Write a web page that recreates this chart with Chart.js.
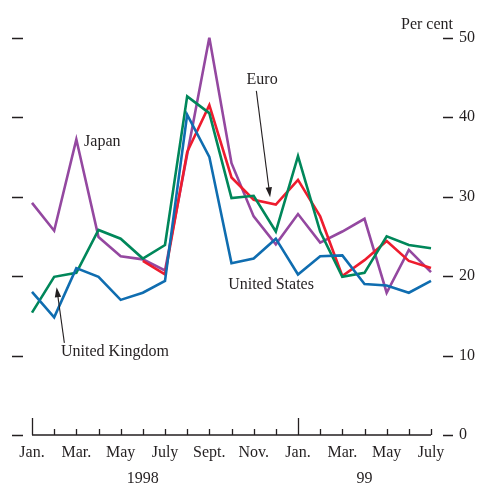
<!DOCTYPE html>
<html>
<head>
<meta charset="utf-8">
<script src="https://cdn.jsdelivr.net/npm/chart.js@4.4.1/dist/chart.umd.min.js"></script>
<style>
html,body{margin:0;padding:0;background:#fff;}
#wrap{width:480px;height:484px;position:relative;}
</style>
</head>
<body>
<div id="wrap"><canvas id="c" width="480" height="484"></canvas></div>
<script>
// ---- data ----
const months = ['Jan.','Feb.','Mar.','Apr.','May','June','July','Aug.','Sept.','Oct.','Nov.','Dec.',
                'Jan.','Feb.','Mar.','Apr.','May','June','July'];
const yearLabels = {5: '1998', 15: '99'};
const japan = [29.2, 25.7, 37.2, 24.9, 22.5, 22.1, 20.7, 35.3, 50.0, 34.2, 27.5, 24.0, 27.8, 24.2, 25.6, 27.2, 17.9, 23.3, 20.5];
const euro  = [null, null, null, null, null, 21.9, 20.2, 35.6, 41.5, 32.4, 29.6, 29.0, 32.1, 27.5, 20.0, 22.0, 24.4, 21.9, 21.0];
const us    = [18.0, 14.8, 21.0, 19.9, 17.0, 17.9, 19.4, 40.3, 35.0, 21.6, 22.2, 24.7, 20.2, 22.5, 22.6, 19.0, 18.8, 17.9, 19.4];
const uk    = [15.4, 19.9, 20.4, 25.8, 24.7, 22.2, 23.9, 42.6, 40.5, 29.8, 30.1, 25.6, 35.1, 25.6, 19.9, 20.4, 25.0, 23.9, 23.5];
const yTicks = [0, 10, 20, 30, 40, 50];

const FONT = '"Liberation Serif", "Times New Roman", serif';
const INK = '#231f20';

const decor = {
  id: 'decor',
  afterDatasetsDraw(chart) {
    const ctx = chart.ctx;
    const x = chart.scales.x, y = chart.scales.y;
    const a = chart.chartArea;
    ctx.save();
    ctx.strokeStyle = INK;
    ctx.lineWidth = 1.3;
    // x axis line and upward tick marks
    ctx.beginPath();
    ctx.moveTo(x.getPixelForValue(0), a.bottom);
    ctx.lineTo(x.getPixelForValue(months.length - 1), a.bottom);
    months.forEach((m, i) => {
      const px = Math.round(x.getPixelForValue(i)) + 0.5;
      const len = (i % 12 === 0) ? 17 : 6;
      ctx.moveTo(px, a.bottom);
      ctx.lineTo(px, a.bottom - len);
    });
    ctx.stroke();
    // dashes on both sides
    ctx.lineWidth = 1.3;
    ctx.beginPath();
    yTicks.forEach(v => {
      const py = Math.round(y.getPixelForValue(v)) + 0.5;
      ctx.moveTo(a.left - 20, py); ctx.lineTo(a.left - 9, py);
      ctx.moveTo(a.right + 12, py); ctx.lineTo(a.right + 22, py);
    });
    ctx.stroke();

    // texts
    ctx.fillStyle = INK;
    ctx.font = '16px ' + FONT;
    ctx.textBaseline = 'alphabetic';
    ctx.textAlign = 'right';
    ctx.fillText('Per cent', a.right + 22, y.getPixelForValue(50) - 9);
    ctx.textAlign = 'left';
    ctx.fillText('Japan', x.getPixelForValue(2.35), y.getPixelForValue(36.4));
    ctx.fillText('Euro', x.getPixelForValue(9.68), y.getPixelForValue(44.2));
    ctx.fillText('United States', x.getPixelForValue(8.85), y.getPixelForValue(18.4));
    ctx.fillText('United Kingdom', x.getPixelForValue(1.31), y.getPixelForValue(10.0));

    // arrows
    function arrow(i0, v0, i1, v1) {
      const x0 = x.getPixelForValue(i0), y0 = y.getPixelForValue(v0);
      const x1 = x.getPixelForValue(i1), y1 = y.getPixelForValue(v1);
      const ang = Math.atan2(y1 - y0, x1 - x0);
      const L = 10, W = 3.2;
      ctx.lineWidth = 1.1;
      ctx.beginPath();
      ctx.moveTo(x0, y0);
      ctx.lineTo(x1 - Math.cos(ang) * L * 0.8, y1 - Math.sin(ang) * L * 0.8);
      ctx.stroke();
      ctx.beginPath();
      ctx.moveTo(x1, y1);
      ctx.lineTo(x1 - Math.cos(ang) * L - Math.sin(ang) * W, y1 - Math.sin(ang) * L + Math.cos(ang) * W);
      ctx.lineTo(x1 - Math.cos(ang) * L + Math.sin(ang) * W, y1 - Math.sin(ang) * L - Math.cos(ang) * W);
      ctx.closePath();
      ctx.fill();
    }
    arrow(10.12, 43.3, 10.74, 29.9);
    arrow(1.46, 11.6, 1.11, 18.6);
    ctx.restore();
  }
};

const common = {fill: false, tension: 0, pointRadius: 0, borderWidth: 2.6, spanGaps: false};

new Chart(document.getElementById('c'), {
  type: 'line',
  data: {
    labels: months,
    datasets: [
      Object.assign({label: 'United States', data: us, borderColor: '#0f6db0'}, common),
      Object.assign({label: 'United Kingdom', data: uk, borderColor: '#00875a'}, common),
      Object.assign({label: 'Euro', data: euro, borderColor: '#ee1c2e'}, common),
      Object.assign({label: 'Japan', data: japan, borderColor: '#9448a0'}, common)
    ]
  },
  options: {
    responsive: false,
    animation: false,
    events: [],
    layout: {padding: {left: 32, top: 35, right: 0, bottom: 0}},
    plugins: {legend: {display: false}, tooltip: {enabled: false}, title: {display: false}},
    scales: {
      x: {
        type: 'category',
        offset: false,
        grid: {display: false, drawTicks: false},
        border: {display: false},
        afterFit: s => { s.height = 49; },
        ticks: {
          autoSkip: false,
          maxRotation: 0,
          minRotation: 0,
          padding: 5,
          color: INK,
          font: {family: FONT, size: 16, lineHeight: 26 / 16},
          callback: function (v, i) {
            const m = (i % 2 === 0) ? months[i] : '';
            if (yearLabels[i]) return [m, yearLabels[i]];
            return m;
          }
        }
      },
      y: {
        position: 'right',
        min: 0,
        max: 50,
        grid: {display: false, drawTicks: false},
        border: {display: false},
        afterFit: s => { s.width = 49; },
        afterBuildTicks: s => { s.ticks = yTicks.map(v => ({value: v})); },
        ticks: {
          padding: 28,
          color: INK,
          font: {family: FONT, size: 16},
          callback: v => String(v)
        }
      }
    }
  },
  plugins: [decor]
});
</script>
</body>
</html>
